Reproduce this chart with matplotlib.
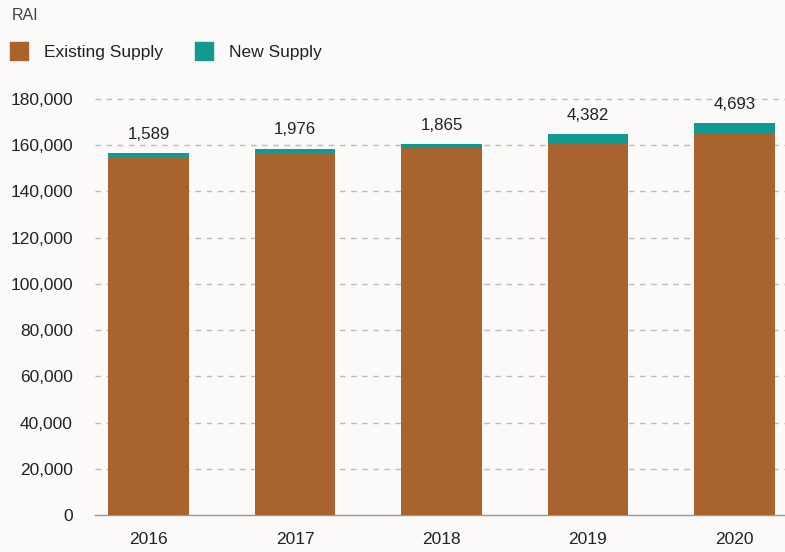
import numpy as np
import matplotlib.pyplot as plt

plt.rcParams['font.family'] = ['Liberation Sans', 'DejaVu Sans']

years = ['2016', '2017', '2018', '2019', '2020']
existing = [155000, 156600, 158700, 160500, 164900]
new_supply = [1589, 1976, 1865, 4382, 4693]

brown = '#A8632E'
teal = '#119A92'
bg = '#FBFAF8'

fig = plt.figure(figsize=(7.85, 5.52), dpi=100, facecolor=bg)
ax = fig.add_axes([95/785, 37/552, 690/785, 416/552], facecolor=bg)

x = np.arange(len(years))
ax.bar(x, existing, width=0.55, color=brown, zorder=3)
ax.bar(x, new_supply, width=0.55, bottom=existing, color=teal, zorder=3)

for xi, e, n in zip(x, existing, new_supply):
    ax.text(xi, e + n + 4800, f'{n:,}', ha='center', va='bottom', fontsize=12.2,
            color='#222222', clip_on=False)

ax.set_xlim(-0.365, 4.345)
ax.set_ylim(0, 180000)
ax.set_yticks(np.arange(0, 180001, 20000))
ax.yaxis.set_major_formatter(plt.FuncFormatter(lambda v, p: f'{int(v):,}'))
ax.set_xticks(x)
ax.set_xticklabels(years)
ax.tick_params(axis='y', length=0, pad=16, labelsize=12.5, labelcolor='#222222')
ax.tick_params(axis='x', length=0, pad=12, labelsize=12.5, labelcolor='#222222')

for v in np.arange(20000, 180001, 20000):
    ax.axhline(v, color='#BBBBBB', lw=1, ls=(0, (4, 4)), zorder=1, clip_on=False)

for s in ['top', 'right', 'left']:
    ax.spines[s].set_visible(False)
ax.spines['bottom'].set_color('#999999')
ax.spines['bottom'].set_linewidth(1)

fig.text(12/785, 1 - 16/552, 'RAI', ha='left', va='center', fontsize=11.5, color='#444444')
fig.patches.append(plt.Rectangle((10/785, 1 - 60/552), 18/785, 18/552,
                                 transform=fig.transFigure, color=brown))
fig.text(44/785, 1 - 52/552, 'Existing Supply', ha='left', va='center', fontsize=12.5, color='#222222')
fig.patches.append(plt.Rectangle((195/785, 1 - 60/552), 18/785, 18/552,
                                 transform=fig.transFigure, color=teal))
fig.text(229/785, 1 - 52/552, 'New Supply', ha='left', va='center', fontsize=12.5, color='#222222')

fig.savefig('out.png', dpi=100, facecolor=bg)
